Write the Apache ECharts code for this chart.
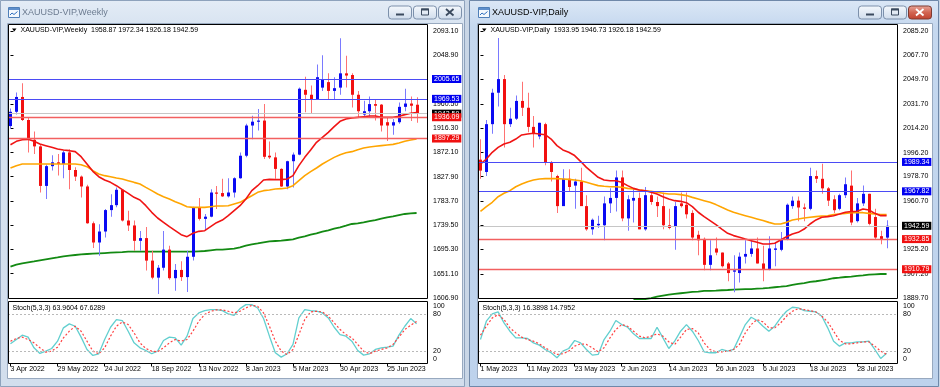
<!DOCTYPE html>
<html><head><meta charset="utf-8">
<script src="https://cdn.jsdelivr.net/npm/echarts@6/dist/echarts.min.js"></script>
<style>html,body{margin:0;padding:0;background:#d9e4f1;}#c{width:940px;height:387px;}</style>
</head><body><div id="c"></div>
<script>
// ---------------- DATA ----------------
const weeklyTitle = 'XAUUSD-VIP,Weekly';
const dailyTitle = 'XAUUSD-VIP,Daily';
const dateTickBars = [0, 8, 16, 24, 32, 40, 48, 56, 64];
const weeklyDateLabels = ['3 Apr 2022','29 May 2022','24 Jul 2022','18 Sep 2022','13 Nov 2022','8 Jan 2023','5 Mar 2023','30 Apr 2023','25 Jun 2023'];
const dailyDateLabels = ['1 May 2023','11 May 2023','23 May 2023','2 Jun 2023','14 Jun 2023','26 Jun 2023','6 Jul 2023','18 Jul 2023','28 Jul 2023'];
const weeklyPriceTicks = [2093.10, 2048.90, 2004.70, 1960.50, 1916.30, 1872.10, 1827.90, 1783.70, 1739.50, 1695.30, 1651.10, 1606.90];
const dailyPriceTicks = [2085.20, 2067.70, 2049.70, 2031.70, 2014.20, 1996.20, 1978.70, 1960.70, 1942.70, 1925.20, 1907.20, 1889.70];
const stochTicks = [0, 20, 80, 100];
const stochLevels = [80, 20];

const weeklyBlueLevels = [2005.65, 1969.53];
const weeklyRedLevels = [1936.09, 1897.29];
const dailyBlueLevels = [1989.34, 1967.82];
const dailyRedLevels = [1932.85, 1910.79];
const bidPrice = 1942.59;

// [open, high, low, close]
const weeklyCandles = [
[1920,1952,1915,1946],[1946,1981,1941,1973],[1973,1998,1929,1931],[1931,1936,1872,1895],[1895,1910,1869,1883],
[1883,1886,1799,1811],[1811,1850,1787,1847],[1847,1867,1839,1854],[1854,1869,1830,1851],[1851,1875,1825,1872],
[1872,1878,1805,1840],[1840,1845,1820,1828],[1828,1830,1790,1810],[1810,1813,1742,1743],[1743,1746,1698,1708],
[1708,1741,1684,1728],[1728,1769,1717,1767],[1767,1796,1755,1776],[1776,1808,1772,1804],[1804,1805,1746,1748],
[1748,1766,1729,1739],[1739,1748,1693,1711],[1711,1729,1693,1716],[1716,1736,1657,1675],[1675,1693,1641,1644],
[1644,1667,1614,1662],[1662,1729,1657,1695],[1695,1702,1640,1643],[1643,1669,1620,1658],[1658,1674,1638,1645],
[1645,1693,1618,1682],[1682,1773,1675,1771],[1771,1789,1748,1751],[1751,1760,1730,1755],[1755,1805,1754,1799],
[1799,1811,1769,1798],[1798,1824,1791,1792],[1792,1825,1790,1799],[1799,1827,1790,1825],[1825,1872,1824,1866],
[1866,1924,1863,1921],[1921,1939,1896,1928],[1928,1951,1912,1930],[1930,1960,1860,1864],[1866,1892,1860,1863],
[1863,1872,1824,1842],[1842,1843,1809,1810],[1810,1857,1805,1856],[1856,1872,1808,1868],[1868,1990,1867,1988],
[1986,2010,1945,1977],[1977,1994,1943,1969],[1969,2032,1969,2009],[1990,2049,1984,2005],[2000,2016,1968,1984],
[1984,2009,1969,1989],[1990,2080,1977,2016],[2016,2048,1990,2012],[2013,2016,1954,1977],[1977,1984,1936,1947],
[1941,1966,1935,1947],[1947,1974,1937,1960],[1960,1969,1930,1957],[1959,1960,1910,1921],[1927,1936,1893,1921],
[1921,1933,1904,1927],[1927,1963,1924,1955],[1955,1988,1947,1961],[1961,1974,1929,1957],[1958.87,1972.34,1926.18,1942.59]
];
const dailyCandles = [
[1991,2006,1977,1983],[1982,2020,1979,2017],[2017,2043,2010,2040],[2040,2080,2030,2050],[2050,2053,2000,2017],
[2017,2029,2015,2021],[2021,2038,2020,2034],[2034,2048,2023,2029],[2029,2040,2011,2015],[2015,2023,2000,2010],
[2008,2018,2006,2018],[2017,2018,1987,1989],[1989,1990,1975,1982],[1979,1980,1952,1957],[1957,1984,1957,1977],
[1977,1984,1968,1971],[1972,1977,1955,1975],[1975,1985,1957,1957],[1957,1965,1939,1940],[1940,1948,1936,1947],
[1943,1950,1941,1944],[1943,1964,1932,1959],[1959,1970,1952,1963],[1963,1983,1953,1978],[1978,1983,1946,1948],
[1948,1965,1939,1962],[1961,1970,1945,1963],[1963,1967,1940,1940],[1940,1971,1939,1965],[1965,1968,1958,1960],
[1960,1964,1949,1957],[1957,1967,1940,1943],[1943,1955,1940,1941],[1942,1960,1925,1957],[1959,1967,1956,1957],
[1958,1967,1948,1951],[1952,1954,1932,1934],[1936,1939,1921,1932],[1933,1934,1910,1914],[1914,1932,1910,1921],
[1926,1934,1921,1923],[1923,1923,1912,1913],[1915,1916,1902,1908],[1909,1921,1894,1910],[1908,1923,1901,1920],
[1920,1932,1915,1922],[1922,1932,1920,1926],[1926,1934,1915,1915],[1915,1928,1902,1911],[1911,1935,1910,1926],
[1925,1930,1913,1926],[1925,1938,1924,1933],[1933,1959,1932,1958],[1957,1964,1955,1961],[1961,1964,1946,1956],
[1956,1959,1946,1955],[1955,1985,1954,1979],[1979,1983,1974,1977],[1977,1988,1966,1970],[1970,1971,1957,1961],
[1962,1965,1952,1954],[1955,1966,1954,1965],[1965,1978,1963,1973],[1972,1983,1943,1945],[1946,1963,1945,1959],
[1959,1972,1957,1966],[1966,1966,1943,1944],[1949,1955,1933,1934],[1935,1939,1929,1933],[1933.95,1946.73,1926.18,1942.59]
];

const weeklyMaRed = [1886.1,1892.2,1895.2,1895.8,1892.2,1887.3,1884.3,1881.3,1878.2,1876.4,
1875.2,1873.4,1864.3,1850.9,1837.5,1827.8,1821.8,1817.5,1811.4,1804.2,
1797.5,1790.2,1785.4,1775.0,1762.9,1752.6,1744.7,1736.8,1729.5,1722.2,
1718.6,1724.7,1728.3,1729.5,1736.8,1744.1,1748.9,1756.8,1765.9,1775.0,
1787.2,1802.4,1811.4,1821.8,1823.0,1822.4,1822.4,1823.6,1829.7,1847.9,
1863.0,1876.4,1890.4,1899.5,1908.6,1918.9,1928.6,1932.8,1934.7,1935.9,
1937.1,1938.3,1938.3,1935.9,1935.9,1935.9,1937.7,1940.8,1943.2,1944.4];
const weeklyMaOrange = [1843.6,1847.9,1850.9,1850.9,1850.9,1850.9,1850.9,1850.9,1850.9,1850.9,
1850.9,1850.9,1849.7,1846.1,1838.8,1832.7,1829.7,1827.8,1825.4,1823.6,
1820.6,1817.5,1814.5,1808.4,1802.4,1796.3,1791.4,1787.2,1782.3,1778.1,
1773.2,1772.0,1772.0,1772.0,1773.2,1774.4,1774.4,1775.0,1778.1,1781.1,
1787.2,1793.2,1799.3,1802.4,1803.6,1805.4,1806.0,1807.2,1811.4,1820.6,
1829.7,1837.0,1843.6,1850.9,1857.0,1863.0,1867.9,1871.5,1873.4,1877.0,
1880.0,1881.9,1883.1,1884.3,1885.5,1886.7,1889.1,1892.2,1894.6,1896.4];
const weeklyMaGreen = [1663.9,1667.6,1670.0,1671.8,1673.6,1675.5,1677.3,1679.1,1680.9,1682.8,
1684.0,1685.2,1686.4,1687.0,1687.6,1688.2,1688.8,1689.4,1690.0,1690.6,
1691.3,1691.3,1691.3,1691.3,1691.3,1691.3,1691.3,1691.3,1691.3,1691.3,
1691.3,1691.3,1691.9,1692.5,1693.7,1694.9,1694.9,1696.1,1696.7,1699.2,
1702.2,1704.6,1706.4,1708.3,1710.1,1710.7,1711.3,1712.5,1713.7,1716.8,
1719.2,1722.2,1724.6,1727.7,1730.1,1733.2,1735.6,1738.6,1741.7,1742.9,
1744.7,1747.1,1748.9,1751.4,1753.8,1755.6,1758.0,1759.9,1761.1,1761.7];

const dailyMaRed = [1987.8,1991.5,1996.4,2000.0,2002.5,2003.7,2006.1,2009.1,2009.8,2010.3,
2009.8,2009.3,2006.1,2001.3,1998.1,1996.4,1994.0,1989.8,1985.4,1981.7,
1978.1,1976.1,1975.6,1975.6,1974.4,1972.0,1970.0,1968.8,1968.3,1967.1,
1965.9,1963.9,1962.2,1961.0,1960.5,1959.5,1956.6,1952.5,1949.3,1946.4,
1943.4,1940.2,1937.1,1935.4,1934.2,1932.9,1931.7,1930.5,1929.3,1929.3,
1929.8,1932.2,1934.6,1936.6,1937.8,1940.2,1943.9,1946.9,1948.8,1949.3,
1950.0,1951.2,1952.5,1953.0,1953.2,1954.9,1954.2,1951.7,1950.0,1950.0];
const dailyMaOrange = [1953.2,1956.6,1959.8,1963.9,1966.4,1968.3,1971.2,1973.2,1974.9,1976.1,
1976.9,1977.1,1977.1,1977.1,1976.9,1976.6,1976.1,1975.6,1974.4,1973.2,
1972.0,1971.5,1971.2,1971.2,1970.8,1970.0,1969.5,1968.8,1968.3,1967.8,
1967.1,1966.4,1965.9,1965.9,1965.4,1964.7,1963.4,1962.2,1961.0,1959.8,
1958.1,1956.1,1954.2,1952.5,1951.2,1950.0,1948.8,1947.6,1946.4,1945.1,
1943.9,1943.9,1945.1,1946.8,1947.6,1948.3,1948.8,1949.3,1949.8,1950.0,
1950.8,1951.2,1951.7,1952.2,1952.2,1952.2,1951.7,1951.2,1950.8,1950.8];
const dailyMaGreenStart = 26;
const dailyMaGreen = [1888.3,1888.8,1889.0,1889.7,1890.7,1891.5,1892.2,1892.7,1893.2,1893.7,
1894.2,1894.4,1894.9,1894.9,1895.1,1895.4,1895.6,1895.9,1896.1,1896.3,
1896.3,1896.6,1896.8,1897.1,1897.6,1898.0,1898.5,1899.3,1900.0,1900.7,
1901.5,1902.0,1902.7,1903.4,1904.2,1904.6,1905.1,1905.4,1905.9,1906.3,
1906.8,1907.1,1907.3,1907.3];

const weeklyStochMain = [31.7,38.7,45.7,42.5,25.3,16.2,19.9,24.2,36.0,57.5,
63.9,60.1,42.5,22.6,13.0,15.7,38.7,58.5,70.9,69.3,
52.1,33.3,25.3,21.0,15.7,19.9,37.1,42.5,41.4,29.6,
44.1,72.5,81.6,85.4,86.9,86.9,85.3,80.0,77.8,88.5,
95.0,95.0,89.6,72.5,44.1,17.3,10.3,15.7,30.7,73.5,
86.9,85.3,84.3,81.6,73.5,58.5,46.7,44.1,36.0,21.0,
13.5,15.7,22.6,25.3,26.4,28.0,45.7,60.1,72.5,63.96];
const weeklyStochSignal = [36.0,40.3,42.5,38.7,33.3,25.3,18.3,19.9,26.4,41.4,
52.1,60.1,52.1,36.0,19.9,15.7,25.3,44.1,60.1,67.1,
62.8,49.4,33.3,24.2,19.9,18.9,25.3,33.3,38.7,36.0,
38.7,52.1,68.2,78.9,84.3,86.4,86.4,84.3,81.6,84.3,
89.6,93.9,92.3,81.6,60.1,36.0,19.9,14.6,22.6,46.7,
70.9,83.2,84.3,83.2,76.2,65.5,54.8,46.7,41.4,30.7,
19.9,15.7,19.9,22.6,25.3,30.7,42.5,54.8,61.7,67.63];
const dailyStochMain = [38.7,68.2,80.0,83.2,65.5,52.1,41.4,41.4,40.3,33.3,
29.6,22.6,17.3,9.2,19.9,24.2,37.1,33.3,22.6,13.5,
14.6,38.7,52.1,69.3,62.8,58.5,47.8,40.3,40.3,40.3,
58.5,41.4,24.2,36.0,52.1,62.8,52.1,37.1,18.9,17.3,
17.3,22.6,19.9,22.6,42.5,62.8,74.6,69.3,60.1,52.1,
60.1,73.5,84.3,90.7,89.6,85.3,84.3,83.2,76.2,57.5,
36.0,28.0,33.3,33.3,34.9,34.9,36.0,22.6,8.1,16.39];
const dailyStochSignal = [45.7,60.1,73.5,78.9,70.9,57.5,49.4,42.5,38.7,36.0,
31.7,25.3,19.9,14.6,15.7,19.9,28.0,31.7,30.7,25.3,
18.9,25.3,41.4,54.8,62.8,60.1,52.1,44.1,41.4,44.1,
47.8,44.1,34.9,30.7,42.5,54.8,56.4,49.4,33.3,22.6,
18.9,18.9,19.9,22.6,30.7,49.4,62.8,70.9,67.1,57.5,
57.5,65.5,76.2,84.3,88.5,86.9,85.3,83.2,76.2,67.1,
52.1,37.1,31.7,31.7,33.3,34.9,34.9,28.0,19.9,14.80];
const weeklyStochText = 'Stoch(5,3,3) 63.9604 67.6289';
const dailyStochText = 'Stoch(5,3,3) 16.3898 14.7952';

// ---------------- STYLE / LAYOUT ----------------
const FONT = "'Liberation Sans', Arial, sans-serif";
const X_MIN = -0.42, X_MAX = 70.94;
const W_MIN = 1605.1, W_MAX = 2105.85;
const D_MIN = 1889.0, D_MAX = 2090.32;
const LEFT_X = 8, RIGHT_X = 478, PLOT_W = 420;
const MAIN_TOP = 24, MAIN_H = 275, ST_TOP = 301.5, ST_H = 62;

function candleRender(params, api) {
  const x = api.value(0), o = api.value(1), h = api.value(2), l = api.value(3), c = api.value(4);
  const po = api.coord([x, o]), pc = api.coord([x, c]), ph = api.coord([x, h]), pl = api.coord([x, l]);
  const cx = Math.round(po[0]);
  const up = c >= o;
  const top = Math.min(po[1], pc[1]), bot = Math.max(po[1], pc[1]);
  const cs = params.coordSys;
  return {
    type: 'group',
    clipPath: {type: 'rect', shape: {x: cs.x, y: cs.y, width: cs.width, height: cs.height}},
    children: [
      {type: 'rect', shape: {x: cx, y: ph[1], width: 1, height: Math.max(1, pl[1] - ph[1])}, style: {fill: up ? '#7a7aff' : '#ff7272'}},
      {type: 'rect', shape: {x: cx - 1, y: top, width: 3, height: Math.max(1.2, bot - top)}, style: {fill: up ? '#0a0af2' : '#f21010'}}
    ]
  };
}

function toXY(arr, start) { return arr.map((v, k) => [start + k, v]); }

function xAxisCfg(gridIndex, labels) {
  const show = !!labels;
  return {
    type: 'value', gridIndex, min: X_MIN, max: X_MAX,
    axisLine: {show: false}, splitLine: {show: false},
    axisTick: show ? {show: true, customValues: dateTickBars, length: 3, lineStyle: {color: '#000', width: 1}} : {show: false},
    axisLabel: show ? {show: true, customValues: dateTickBars, align: 'left', fontSize: 7, fontFamily: FONT, color: '#000', margin: 2,
      formatter: v => labels[dateTickBars.indexOf(Math.round(v))] || ''} : {show: false}
  };
}
function yMainCfg(gridIndex, min, max, ticks) {
  return {
    type: 'value', gridIndex, position: 'right', min, max,
    axisLine: {show: false}, splitLine: {show: false},
    axisTick: {show: true, customValues: ticks, length: 3, lineStyle: {color: '#000'}},
    axisLabel: {customValues: ticks, formatter: v => v.toFixed(2), fontSize: 7, fontFamily: FONT, color: '#000', margin: 5}
  };
}
function yStochCfg(gridIndex) {
  return {
    type: 'value', gridIndex, position: 'right', min: 0, max: 100,
    axisLine: {show: false}, splitLine: {show: false}, axisTick: {show: false},
    axisLabel: {customValues: stochTicks, margin: 5, fontSize: 7, fontFamily: FONT, color: '#000',
      formatter: v => v === 100 ? '{t|100}' : (v === 0 ? '{b|0}' : String(v)),
      rich: {t: {padding: [10, 0, 0, 0], fontSize: 7, fontFamily: FONT, color: '#000'},
             b: {padding: [0, 0, 9, 0], fontSize: 7, fontFamily: FONT, color: '#000'}}}
  };
}
function levelItem(value, lineColor, bg, width) {
  return {
    yAxis: value,
    lineStyle: {color: lineColor, width: width, type: 'solid'},
    label: {show: true, position: 'end', distance: 4, formatter: value.toFixed(2), color: '#fff', backgroundColor: bg,
      padding: [0, 2, 0, 2], fontSize: 7, lineHeight: 8, fontFamily: FONT}
  };
}
function levelsMarkLine(blue, red) {
  const data = [levelItem(bidPrice, '#c6c6c6', '#000', 1)];
  blue.forEach(v => data.push(levelItem(v, '#4b4bf5', '#0000f0', 1.2)));
  red.forEach(v => data.push(levelItem(v, '#f26060', '#f01010', 1.4)));
  return {symbol: ['none', 'none'], silent: true, animation: false, data};
}
function lineSeries(xi, data, color, width, extra) {
  return Object.assign({type: 'line', xAxisIndex: xi, yAxisIndex: xi, data, symbol: 'none', showSymbol: false,
    lineStyle: {color, width}, silent: true, animation: false, z: 4}, extra || {});
}

// ---------------- CHROME ----------------
function btn(x, y, kind, active) {
  const isClose = kind === 'close';
  const red = isClose && active;
  const icon = red ? '#ffffff' : '#3b4a5e';
  const els = [{type: 'rect', shape: {x: x + 0.5, y: y + 0.5, width: 23, height: 13, r: 3},
    style: {fill: {type: 'linear', x: 0, y: 0, x2: 0, y2: 1, colorStops: red ?
      [{offset: 0, color: '#e9a99c'}, {offset: 0.5, color: '#d26552'}, {offset: 1, color: '#c0412e'}] :
      [{offset: 0, color: '#f6f9fd'}, {offset: 0.5, color: '#e2eaf4'}, {offset: 1, color: '#cfdcec'}]},
      stroke: red ? '#7d3a31' : '#7c90ab', lineWidth: 1}}];
  if (kind === 'min') els.push({type: 'rect', shape: {x: x + 8, y: y + 8, width: 8, height: 2}, style: {fill: icon}});
  if (kind === 'max') els.push({type: 'rect', shape: {x: x + 8.5, y: y + 3.5, width: 7, height: 6}, style: {fill: 'none', stroke: icon, lineWidth: 1}},
                               {type: 'rect', shape: {x: x + 8, y: y + 3, width: 8, height: 2}, style: {fill: icon}});
  if (kind === 'close') {
    els.push({type: 'line', shape: {x1: x + 8, y1: y + 3.5, x2: x + 15.5, y2: y + 10}, style: {stroke: icon, lineWidth: 1.8}});
    els.push({type: 'line', shape: {x1: x + 15.5, y1: y + 3.5, x2: x + 8, y2: y + 10}, style: {stroke: icon, lineWidth: 1.8}});
  }
  return els;
}
function windowIcon(x, y) {
  return [
    {type: 'rect', shape: {x: x + 0.5, y: y + 0.5, width: 11, height: 10}, style: {fill: '#f4f8fd', stroke: '#4f7fb8'}},
    {type: 'rect', shape: {x: x + 1, y: y + 1, width: 10, height: 2}, style: {fill: '#5f8fcb'}},
    {type: 'polyline', shape: {points: [[x + 2, y + 8], [x + 4, y + 6], [x + 6, y + 7.5], [x + 9.5, y + 4.5]]}, style: {stroke: '#2f6fc0', lineWidth: 1, fill: 'none'}}
  ];
}
const chrome = [
  {type: 'rect', z: -20, shape: {x: 0, y: 0, width: 940, height: 387}, style: {fill: '#c9d6e6'}},
  {type: 'rect', z: -19, shape: {x: 0.5, y: 0.5, width: 464, height: 386},
    style: {fill: {type: 'linear', x: 0, y: 0, x2: 0, y2: 1, colorStops: [{offset: 0, color: '#e4ecf6'}, {offset: 0.07, color: '#d7e3f1'}, {offset: 1, color: '#d2deed'}]}, stroke: '#8ea2bc'}},
  {type: 'rect', z: -19, shape: {x: 469.5, y: 0.5, width: 469, height: 386},
    style: {fill: {type: 'linear', x: 0, y: 0, x2: 0, y2: 1, colorStops: [{offset: 0, color: '#dbe7f6'}, {offset: 0.07, color: '#c5d8ef'}, {offset: 1, color: '#bdd2ec'}]}, stroke: '#6f88a9'}},
  {type: 'rect', z: -18, shape: {x: 7.5, y: 23.5, width: 455, height: 355}, style: {fill: '#ffffff', stroke: '#98a9bf'}},
  {type: 'rect', z: -18, shape: {x: 477.5, y: 23.5, width: 455, height: 355}, style: {fill: '#ffffff', stroke: '#98a9bf'}},
  {type: 'text', z: 5, x: 22, y: 13, style: {text: weeklyTitle, fontSize: 9, fontFamily: FONT, fill: '#6c7b90', verticalAlign: 'middle'}},
  {type: 'text', z: 5, x: 492, y: 13, style: {text: dailyTitle, fontSize: 9, fontFamily: FONT, fill: '#000000', verticalAlign: 'middle'}},
  // chart frames
  {type: 'rect', z: 50, shape: {x: LEFT_X + 0.5, y: MAIN_TOP + 0.5, width: PLOT_W - 1, height: MAIN_H - 1}, style: {fill: 'none', stroke: '#000', lineWidth: 1}},
  {type: 'rect', z: 50, shape: {x: LEFT_X + 0.5, y: ST_TOP, width: PLOT_W - 1, height: ST_H}, style: {fill: 'none', stroke: '#000', lineWidth: 1}},
  {type: 'rect', z: 50, shape: {x: RIGHT_X + 0.5, y: MAIN_TOP + 0.5, width: PLOT_W - 1, height: MAIN_H - 1}, style: {fill: 'none', stroke: '#000', lineWidth: 1}},
  {type: 'rect', z: 50, shape: {x: RIGHT_X + 0.5, y: ST_TOP, width: PLOT_W - 1, height: ST_H}, style: {fill: 'none', stroke: '#000', lineWidth: 1}},
  // headers
  {type: 'polygon', z: 50, shape: {points: [[12, 28.5], [16.5, 28.5], [14.25, 31.5]]}, style: {fill: '#000'}},
  {type: 'polygon', z: 50, shape: {points: [[482, 28.5], [486.5, 28.5], [484.25, 31.5]]}, style: {fill: '#000'}},
  {type: 'text', z: 50, x: 20.5, y: 30.5, style: {text: weeklyTitle + '  ' + weeklyCandles[weeklyCandles.length - 1].map(v => v.toFixed(2)).join(' '), fontSize: 7, fontFamily: FONT, fill: '#000', verticalAlign: 'middle'}},
  {type: 'text', z: 50, x: 490.5, y: 30.5, style: {text: dailyTitle + '  ' + dailyCandles[dailyCandles.length - 1].map(v => v.toFixed(2)).join(' '), fontSize: 7, fontFamily: FONT, fill: '#000', verticalAlign: 'middle'}},
  {type: 'text', z: 50, x: 12.5, y: 308, style: {text: weeklyStochText, fontSize: 7, fontFamily: FONT, fill: '#000', verticalAlign: 'middle'}},
  {type: 'text', z: 50, x: 482.5, y: 308, style: {text: dailyStochText, fontSize: 7, fontFamily: FONT, fill: '#000', verticalAlign: 'middle'}}
].concat(windowIcon(8, 7), windowIcon(478, 7),
  btn(388, 5.5, 'min', false), btn(413, 5.5, 'max', false), btn(438, 5.5, 'close', false),
  btn(858, 5.5, 'min', true), btn(883, 5.5, 'max', true), btn(908, 5.5, 'close', true));

// ---------------- OPTION ----------------
const option = {
  animation: false,
  backgroundColor: '#c9d6e6',
  graphic: {elements: chrome},
  grid: [
    {left: LEFT_X, top: MAIN_TOP, width: PLOT_W, height: MAIN_H},
    {left: LEFT_X, top: ST_TOP, width: PLOT_W, height: ST_H},
    {left: RIGHT_X, top: MAIN_TOP, width: PLOT_W, height: MAIN_H},
    {left: RIGHT_X, top: ST_TOP, width: PLOT_W, height: ST_H}
  ],
  xAxis: [xAxisCfg(0, null), xAxisCfg(1, weeklyDateLabels), xAxisCfg(2, null), xAxisCfg(3, dailyDateLabels)],
  yAxis: [yMainCfg(0, W_MIN, W_MAX, weeklyPriceTicks), yStochCfg(1), yMainCfg(2, D_MIN, D_MAX, dailyPriceTicks), yStochCfg(3)],
  series: [
    {type: 'custom', xAxisIndex: 0, yAxisIndex: 0, renderItem: candleRender, clip: true, z: 3,
      data: weeklyCandles.map((c, i) => [i].concat(c)), encode: {x: 0, y: [1, 2, 3, 4]}},
    lineSeries(0, toXY(weeklyMaGreen, 0), '#138a13', 1.8, {markLine: levelsMarkLine(weeklyBlueLevels, weeklyRedLevels), z: 2}),
    lineSeries(0, toXY(weeklyMaOrange, 0), '#ffa500', 1.6),
    lineSeries(0, toXY(weeklyMaRed, 0), '#f01414', 1.6),
    lineSeries(1, toXY(weeklyStochMain, 0), '#62cfcf', 1.3,
      {markLine: {symbol: ['none', 'none'], silent: true, label: {show: false}, lineStyle: {color: '#b9b9b9', type: [2, 2], width: 1}, data: stochLevels.map(v => ({yAxis: v}))}}),
    lineSeries(1, toXY(weeklyStochSignal, 0), '#ff4040', 1.2, {lineStyle: {color: '#ff4040', width: 1.2, type: [2, 2]}}),

    {type: 'custom', xAxisIndex: 2, yAxisIndex: 2, renderItem: candleRender, clip: true, z: 3,
      data: dailyCandles.map((c, i) => [i].concat(c)), encode: {x: 0, y: [1, 2, 3, 4]}},
    lineSeries(2, toXY(dailyMaGreen, dailyMaGreenStart), '#138a13', 1.8, {markLine: levelsMarkLine(dailyBlueLevels, dailyRedLevels), z: 2}),
    lineSeries(2, toXY(dailyMaOrange, 0), '#ffa500', 1.6),
    lineSeries(2, toXY(dailyMaRed, 0), '#f01414', 1.6),
    lineSeries(3, toXY(dailyStochMain, 0), '#62cfcf', 1.3,
      {markLine: {symbol: ['none', 'none'], silent: true, label: {show: false}, lineStyle: {color: '#b9b9b9', type: [2, 2], width: 1}, data: stochLevels.map(v => ({yAxis: v}))}}),
    lineSeries(3, toXY(dailyStochSignal, 0), '#ff4040', 1.2, {lineStyle: {color: '#ff4040', width: 1.2, type: [2, 2]}})
  ]
};
const chart = echarts.init(document.getElementById('c'), null, {renderer: 'canvas'});
chart.setOption(option);
</script>
</body></html>
